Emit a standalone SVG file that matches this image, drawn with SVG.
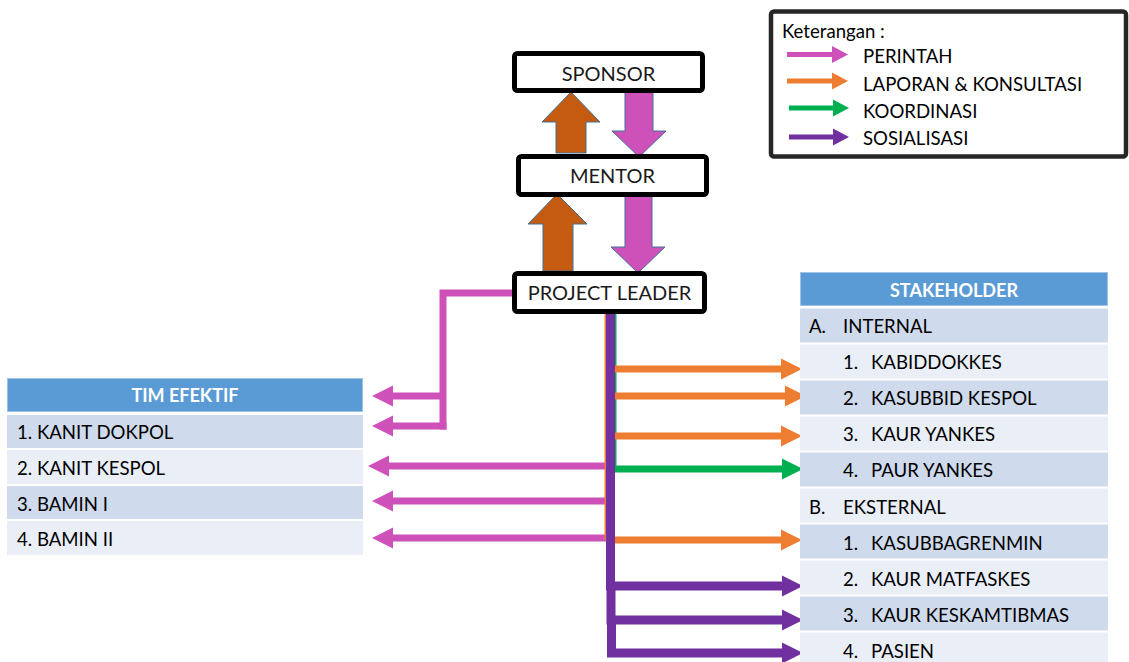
<svg xmlns="http://www.w3.org/2000/svg" width="1129" height="662" viewBox="0 0 1129 662">
<style>
text{font-family:Lato,"Open Sans","Liberation Sans",sans-serif;fill:#000}
.box{fill:#fff;stroke:#000;stroke-width:5}
.lbl{font-size:20px;text-anchor:middle;fill:#1a1a1a}
.hdr{fill:#5B9BD5;stroke:#9DC3E6;stroke-width:1}
.dk{fill:#CFDAEC}
.lt{fill:#E9EEF7}
.ht{font-size:18px;font-weight:bold;fill:#fff;text-anchor:middle}
.rt{font-size:18.6px}
.lg{font-size:18.6px}
.pk{stroke:#CE50B9;fill:none;stroke-width:7}
.or{stroke:#ED7D31;fill:none;stroke-width:7}
.gr{stroke:#00B050;fill:none;stroke-width:7}
.pu{stroke:#7030A0;fill:none;stroke-width:9}
.brown{fill:#C55A11;stroke:#41719C;stroke-width:1}
.pinkb{fill:#CE50B9;stroke:#41719C;stroke-width:1}
</style>
<defs>
<marker id="mPk" markerUnits="userSpaceOnUse" markerWidth="22" markerHeight="22" refX="0" refY="10.5" orient="auto" overflow="visible"><path d="M0,0 L21,10.5 L0,21 z" fill="#CE50B9"/></marker>
<marker id="mOr" markerUnits="userSpaceOnUse" markerWidth="22" markerHeight="22" refX="0" refY="10.5" orient="auto" overflow="visible"><path d="M0,0 L21,10.5 L0,21 z" fill="#ED7D31"/></marker>
<marker id="mGr" markerUnits="userSpaceOnUse" markerWidth="22" markerHeight="22" refX="0" refY="10.5" orient="auto" overflow="visible"><path d="M0,0 L21,10.5 L0,21 z" fill="#00B050"/></marker>
<marker id="mPu" markerUnits="userSpaceOnUse" markerWidth="22" markerHeight="22" refX="0" refY="10.5" orient="auto" overflow="visible"><path d="M0,0 L21,10.5 L0,21 z" fill="#7030A0"/></marker>
</defs>

<g id="legend">
<rect x="771" y="11.5" width="355" height="145" rx="3" fill="#fff" stroke="#262626" stroke-width="4.5"/>
<text class="lg" x="782" y="38">Keterangan :</text>
<polygon points="787,52 832,52 832,46 848,54.5 832,63 832,57 787,57" fill="#CE50B9"/>
<polygon points="787,78.5 832,78.5 832,72.5 848,81 832,89.5 832,83.5 787,83.5" fill="#ED7D31"/>
<polygon points="789,105.5 833,105.5 833,99.5 849,108 833,116.5 833,110.5 789,110.5" fill="#00B050"/>
<polygon points="789,134.5 833,134.5 833,128.5 849,137 833,145.5 833,139.5 789,139.5" fill="#7030A0"/>
<text class="lg" x="863" y="63">PERINTAH</text>
<text class="lg" x="863" y="91">LAPORAN &amp; KONSULTASI</text>
<text class="lg" x="863" y="118">KOORDINASI</text>
<text class="lg" x="863" y="145">SOSIALISASI</text>
</g>

<g id="block-arrows">
<polygon class="brown" points="556,153 556,122 542,122 571,92 600,122 586,122 586,153"/>
<polygon class="pinkb" points="625,91 653,91 653,131 666,131 639,157 612,131 625,131"/>
<polygon class="brown" points="543,271 543,224 528,224 557,194 587,224 573,224 573,271"/>
<polygon class="pinkb" points="625,195 652,195 652,247 665,247 638,273 611,247 625,247"/>
</g>

<g id="sponsor">
<rect class="box" x="514.5" y="53.5" width="188" height="37" rx="3"/>
<text class="lbl" x="608.5" y="81">SPONSOR</text>
</g>
<g id="mentor">
<rect class="box" x="518.5" y="156.5" width="188" height="38" rx="3"/>
<text class="lbl" x="612.5" y="183">MENTOR</text>
</g>

<g id="connectors">
<path class="pk" d="M514,293 H443 V429.5"/>
<path class="pk" d="M443,396 H393" marker-end="url(#mPk)"/>
<path class="pk" d="M446.5,426 H393" marker-end="url(#mPk)"/>
<path class="pk" d="M606,466 H389" marker-end="url(#mPk)"/>
<path class="pk" d="M606,501 H393" marker-end="url(#mPk)"/>
<path class="pk" d="M606,538 H393" marker-end="url(#mPk)"/>
<path stroke="#ED7D31" stroke-width="2" fill="none" d="M605.5,312 V540"/>
<path stroke="#00B050" stroke-width="2" fill="none" d="M615.5,312 V469"/>
<path class="or" d="M614,369 H781" marker-end="url(#mOr)"/>
<path class="or" d="M614,396 H785" marker-end="url(#mOr)"/>
<path class="or" d="M614,436 H781" marker-end="url(#mOr)"/>
<path class="or" d="M614,540 H781" marker-end="url(#mOr)"/>
<path class="gr" d="M614,469 H782" marker-end="url(#mGr)"/>
<path class="pu" d="M610.5,312 V586 H782" marker-end="url(#mPu)"/>
<path class="pu" d="M611,586 V620 H782" marker-end="url(#mPu)"/>
<path class="pu" d="M611.5,620 V653 H782" marker-end="url(#mPu)"/>
</g>

<g id="project-leader">
<rect class="box" x="514.5" y="273.5" width="190" height="38" rx="3"/>
<text class="lbl" x="609.5" y="300">PROJECT LEADER</text>
</g>

<g id="tim-efektif">
<rect class="hdr" x="7.5" y="378.5" width="355" height="33"/>
<text class="ht" x="185" y="402">TIM EFEKTIF</text>
<rect class="dk" x="7" y="415" width="356" height="33"/>
<rect class="lt" x="7" y="450" width="356" height="34"/>
<rect class="dk" x="7" y="486" width="356" height="33"/>
<rect class="lt" x="7" y="521" width="356" height="34"/>
<text class="rt" x="17" y="439">1. KANIT DOKPOL</text>
<text class="rt" x="17" y="475">2. KANIT KESPOL</text>
<text class="rt" x="17" y="511">3. BAMIN I</text>
<text class="rt" x="17" y="546">4. BAMIN II</text>
</g>

<g id="stakeholder">
<rect class="hdr" x="800.5" y="272.5" width="307" height="33"/>
<text class="ht" x="954" y="297">STAKEHOLDER</text>
<rect class="dk" x="800" y="308.5" width="308" height="34"/>
<rect class="lt" x="800" y="344.5" width="308" height="34"/>
<rect class="dk" x="800" y="380.5" width="308" height="34"/>
<rect class="lt" x="800" y="416.5" width="308" height="34"/>
<rect class="dk" x="800" y="452.5" width="308" height="34"/>
<rect class="lt" x="800" y="488.5" width="308" height="34"/>
<rect class="dk" x="800" y="524.5" width="308" height="34"/>
<rect class="lt" x="800" y="560.5" width="308" height="34"/>
<rect class="dk" x="800" y="596.5" width="308" height="34"/>
<rect class="lt" x="800" y="632.5" width="308" height="34"/>
<text class="rt" x="809" y="333">A.</text><text class="rt" x="843" y="333">INTERNAL</text>
<text class="rt" x="843" y="369">1.</text><text class="rt" x="871" y="369">KABIDDOKKES</text>
<text class="rt" x="843" y="405">2.</text><text class="rt" x="871" y="405">KASUBBID KESPOL</text>
<text class="rt" x="843" y="441">3.</text><text class="rt" x="871" y="441">KAUR YANKES</text>
<text class="rt" x="843" y="477">4.</text><text class="rt" x="871" y="477">PAUR YANKES</text>
<text class="rt" x="809" y="514">B.</text><text class="rt" x="843" y="514">EKSTERNAL</text>
<text class="rt" x="843" y="550">1.</text><text class="rt" x="871" y="550">KASUBBAGRENMIN</text>
<text class="rt" x="843" y="586">2.</text><text class="rt" x="871" y="586">KAUR MATFASKES</text>
<text class="rt" x="843" y="622">3.</text><text class="rt" x="871" y="622">KAUR KESKAMTIBMAS</text>
<text class="rt" x="843" y="658">4.</text><text class="rt" x="871" y="658">PASIEN</text>
</g>
</svg>
